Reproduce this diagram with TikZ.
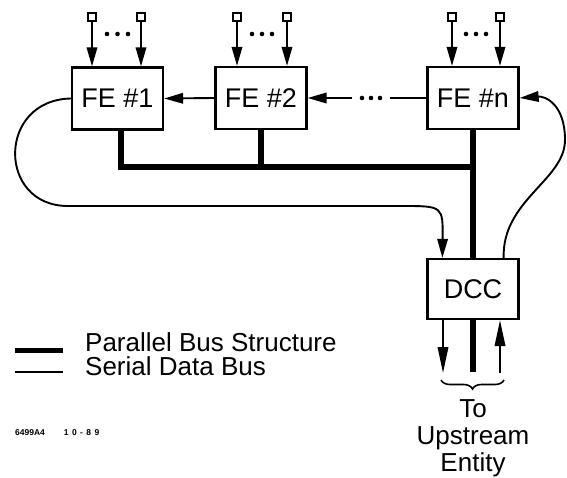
\documentclass[tikz,border=0pt]{standalone}
\usepackage{fontspec}
\setmainfont{Liberation Sans}
\usetikzlibrary{arrows.meta,decorations.pathreplacing,calc}
\begin{document}
\begin{tikzpicture}[x=1pt,y=-1pt,
  fe/.style={draw,line width=2.3pt,minimum width=91pt,minimum height=62pt,inner sep=0pt,font=\fontsize{27}{29}\selectfont},
  src/.style={draw,line width=1.6pt,minimum size=8pt,inner sep=0pt},
  ser/.style={line width=1.9pt},
  par/.style={line width=5.5pt},
  arr/.style={-{Triangle[length=19pt,width=10.5pt]}},
  longarr/.style={-{Triangle[length=26pt,width=10.5pt]}},
  dot/.style={circle,fill,inner sep=0pt,minimum size=4.6pt},
  lbl/.style={font=\fontsize{26}{27}\selectfont},
  code/.style={font=\fontsize{8.5}{10}\selectfont\bfseries}
]
\useasboundingbox (0,0) rectangle (567,478);

% front-end boxes
\node[fe] (FE1) at (117.5,98.5) {FE \#1};
\node[fe] (FE2) at (261,98) {FE \#2};
\node[fe] (FEn) at (473,98) {FE \#n};
\node[fe,minimum height=60pt] (DCC) at (473,289) {DCC};

% sources
\node[src] (s11) at (92,17) {};
\node[src] (s12) at (141,17) {};
\node[src] (s21) at (237,17) {};
\node[src] (s22) at (287,17) {};
\node[src] (sn1) at (452,17) {};
\node[src] (sn2) at (500,17) {};
\foreach \s/\b in {s11/FE1,s12/FE1,s21/FE2,s22/FE2,sn1/FEn,sn2/FEn}
  \draw[ser,arr] (\s.south) -- (\s.south |- \b.north);
\foreach \x in {107,117.5,128, 252,262,272, 466,476,486}
  \node[dot] at (\x,34) {};

% serial chain between FEs
\draw[ser,arr] (FE2.west) -- (FE1.east);
\coordinate (c1) at (390,98);
\coordinate (c2) at (352,98);
\draw[ser] (FEn.west) -- (c1);
\foreach \x in {362,371,380}
  \node[dot] at (\x,98) {};
\draw[ser,arr] (c2) -- (FE2.east);

% parallel bus
\coordinate (b1) at (121,167);
\coordinate (b2) at (473,167);
\draw[par,line join=miter] (FE1.south -| b1) -- (b1) -- (b2);
\draw[par] (FE2.south) -- (FE2.south |- b1);
\draw[par] (FEn.south) -- (DCC.north);

% serial loop FE1 -> DCC
\coordinate (l1) at (68,206);
\coordinate (l2) at (402,206);
\coordinate (dccin) at ($(DCC.north west)+(16,0)$);
\draw[ser,arr] (FE1.west) .. controls (-3,100) and (-3,206) .. (l1) -- (l2)
   .. controls (443,206) .. (dccin);

% serial loop DCC -> FEn
\coordinate (dccout) at ($(DCC.north east)+(-16,0)$);
\coordinate (r1) at (565,140);
\draw[ser,arr] (dccout) .. controls (502,200) and (565,180) .. (r1)
   .. controls (565,104) and (545,96) .. (FEn.east);

% outputs of DCC
\coordinate (o1) at (443,373);
\coordinate (o2) at (473,372);
\coordinate (o3) at (500,373);
\draw[par] (DCC.south) -- (o2);
\draw[ser,longarr] (DCC.south -| o1) -- (o1);
\draw[ser,longarr] (o3) -- (DCC.south -| o3);

\coordinate (br1) at (441,380);
\coordinate (br2) at (504,380);
\draw[line width=1.6pt,decorate,decoration={brace,mirror,amplitude=9pt}] (br1) -- (br2);
\node[lbl,align=center,anchor=north,inner sep=0pt] (up) at (473,399) {To\\Upstream\\Entity};

% legend
\coordinate (g1) at (15,350);
\coordinate (g2) at (63,350);
\coordinate (g3) at (15,372);
\coordinate (g4) at (63,372);
\draw[par,line width=5pt] (g1) -- (g2);
\draw[ser,line width=1.5pt] (g3) -- (g4);
\node[lbl,anchor=base west,inner sep=0pt] (t1) at (85,351) {Parallel Bus Structure};
\node[lbl,anchor=base west,inner sep=0pt] (t2) at (85,375) {Serial Data Bus};

\node[code,anchor=base west,inner sep=0pt] (cd) at (15,435) {6499A4\hspace{19pt}{\addfontfeature{LetterSpace=40}10-89}};
\end{tikzpicture}
\end{document}
